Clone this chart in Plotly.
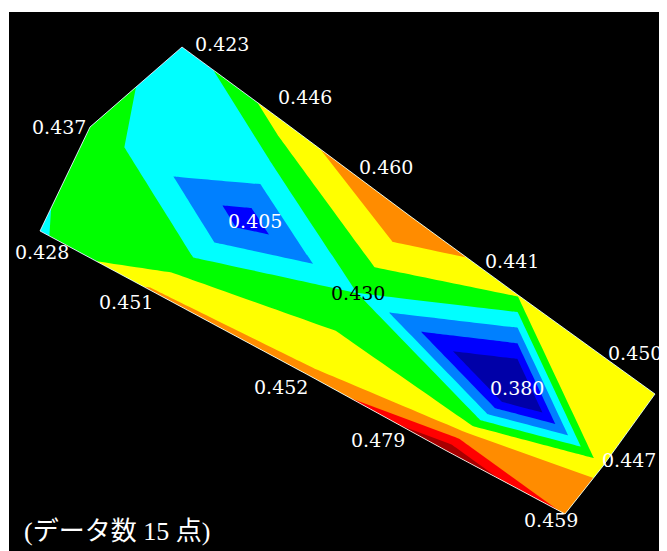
import plotly.graph_objects as go

# ---- data: 15 survey points, 3 rows (A = upper edge, B = middle, C = lower edge) x 5 columns
col_idx = [0, 1, 2, 3, 4]
row_idx = [0, 1, 2]

x_A = [182, 284, 410, 518, 655]
y_A = [47, 122, 216, 295, 394]
x_B = [90, 247, 357, 517, 603]
y_B = [127, 220, 293, 390, 466]
x_C = [40, 148, 310, 445, 565]
y_C = [231, 289, 376, 450, 514]

z_A = [0.423, 0.446, 0.460, 0.441, 0.450]
z_B = [0.437, 0.405, 0.430, 0.380, 0.447]
z_C = [0.428, 0.451, 0.452, 0.479, 0.459]

level_start = 0.40
level_end = 0.4705
level_step = 0.01
band_colors = ["#0000A8", "#0000FF", "#0080FF", "#00FFFF", "#00FF00",
               "#FFFF00", "#FF8C00", "#FF0000", "#A80000"]

footer_text = "(データ数 15 点)"

# label placement (pixel shifts relative to each point), per row
shift_A = [(40, 3), (21, 25), (-24, 49), (-6, 34), (-20, 41)]
shift_B = [(-31, 0), (8, -1), (1, 0), (0, 2), (26, 6)]
shift_C = [(2, -21), (-22, -13), (-29, -11), (-67, 10), (-14, -6)]
label_color_B = ["white", "white", "black", "white", "white"]

n = len(band_colors)
colorscale = [[k / (n - 1), c] for k, c in enumerate(band_colors)]

fig = go.Figure()

axis_style = dict(showgrid=False, showticklabels="none", showline=False,
                  startline=True, endline=True,
                  startlinecolor="rgba(255,255,255,0.8)", endlinecolor="rgba(255,255,255,0.8)",
                  startlinewidth=1, endlinewidth=1,
                  smoothing=0, minorgridcount=0,
                  gridcolor="rgba(0,0,0,0)", linecolor="rgba(0,0,0,0)")

fig.add_trace(go.Carpet(
    carpet="c",
    a=col_idx, b=row_idx,
    x=[x_A, x_B, x_C], y=[y_A, y_B, y_C],
    aaxis=axis_style, baxis=axis_style,
))

fig.add_trace(go.Contourcarpet(
    carpet="c",
    a=col_idx, b=row_idx,
    z=[z_A, z_B, z_C],
    autocontour=False,
    contours=dict(start=level_start, end=level_end, size=level_step,
                  coloring="fill", showlines=False),
    line=dict(width=0, smoothing=0),
    colorscale=colorscale,
    showscale=False,
))

rows = [(x_A, y_A, z_A, shift_A, ["white"] * 5),
        (x_B, y_B, z_B, shift_B, label_color_B),
        (x_C, y_C, z_C, shift_C, ["white"] * 5)]
for xs, ys, zs, shifts, cols in rows:
    for xv, yv, zv, (dx, dy), col in zip(xs, ys, zs, shifts, cols):
        fig.add_annotation(x=xv, y=yv, text=f"{zv:.3f}", showarrow=False,
                           xshift=dx, yshift=dy,
                           font=dict(family="DejaVu Serif", size=19, color=col))

fig.add_annotation(xref="paper", yref="paper", x=0.02, y=0.037,
                   xanchor="left", yanchor="middle", showarrow=False,
                   text=footer_text,
                   font=dict(family="Liberation Serif, Noto Sans CJK JP", size=26, color="white"))

# page body adds an 8px offset; the figure fills the rest of the window
fig.update_layout(
    width=659, height=543,
    margin=dict(l=1, r=0, t=4, b=0),
    paper_bgcolor="white", plot_bgcolor="black",
    showlegend=False,
    xaxis=dict(range=[9, 667], visible=False, fixedrange=True),
    yaxis=dict(range=[551, 12], visible=False, fixedrange=True),
)

fig.write_html("out.html")
